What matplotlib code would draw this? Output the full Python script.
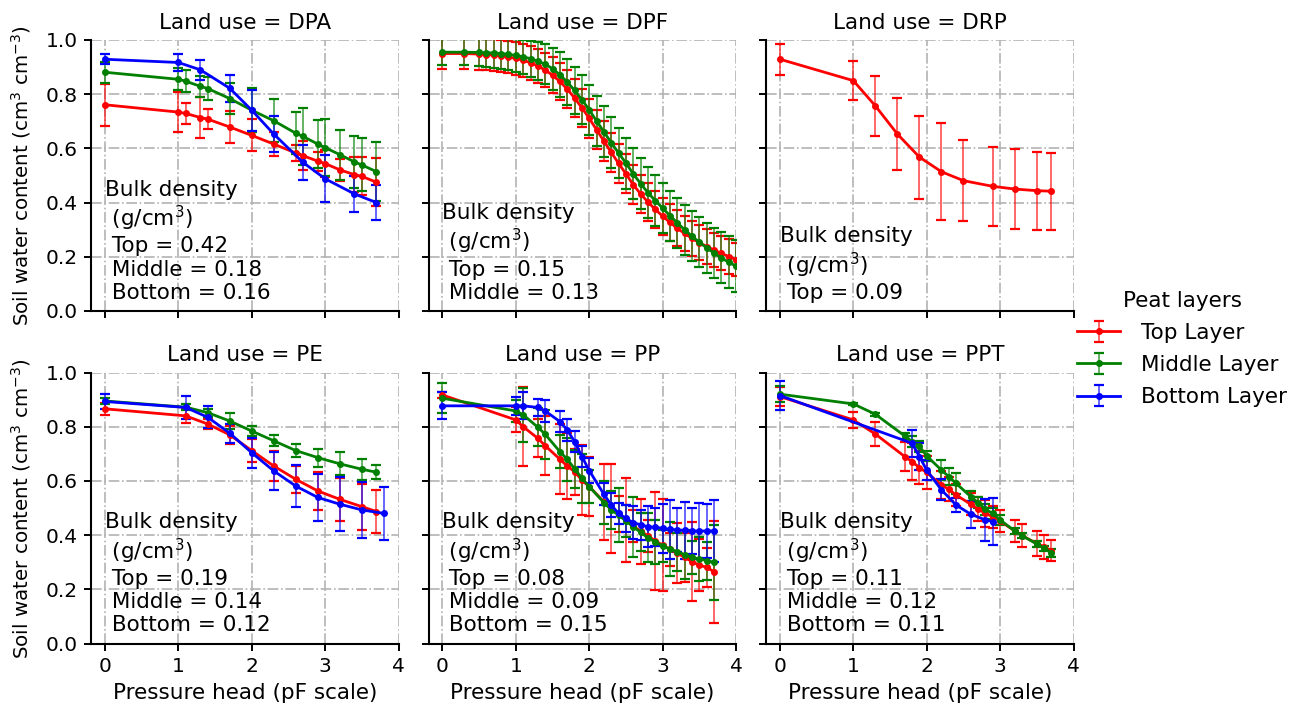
import matplotlib
matplotlib.use("Agg")
import matplotlib.pyplot as plt

plt.rcParams['font.family'] = ['DejaVu Sans']

# ---------------- data ----------------
land_uses = ["DPA", "DPF", "DRP", "PE", "PP", "PPT"]
layer_names = ["Top Layer", "Middle Layer", "Bottom Layer"]
layer_colors = ["red", "green", "blue"]

# DPA
dpa_x = [0, 1.0, 1.1, 1.3, 1.4, 1.7, 2.0, 2.3, 2.6, 2.7, 2.9, 3.0, 3.2, 3.4, 3.5, 3.7]
dpa_top = [0.761, 0.734, 0.729, 0.714, 0.708, 0.679, 0.648, 0.616, 0.583, 0.573, 0.553, 0.544, 0.521, 0.503, 0.497, 0.475]
dpa_top_err = [0.077, 0.074, 0.040, 0.075, 0.038, 0.060, 0.059, 0.045, 0.028, 0.053, 0.035, 0.050, 0.040, 0.065, 0.070, 0.088]
dpa_mid = [0.881, 0.855, 0.848, 0.829, 0.821, 0.784, 0.741, 0.702, 0.656, 0.644, 0.616, 0.603, 0.577, 0.550, 0.539, 0.514]
dpa_mid_err = [0.039, 0.040, 0.040, 0.038, 0.044, 0.058, 0.082, 0.080, 0.078, 0.105, 0.088, 0.105, 0.092, 0.095, 0.098, 0.108]
dpa_bot_x = [0, 1.0, 1.3, 1.7, 2.0, 2.3, 2.7, 3.0, 3.4, 3.7]
dpa_bot = [0.929, 0.917, 0.890, 0.822, 0.741, 0.653, 0.548, 0.488, 0.432, 0.400]
dpa_bot_err = [0.018, 0.030, 0.037, 0.049, 0.075, 0.066, 0.066, 0.087, 0.066, 0.066]

# DPF
dpf_x = [0.0, 0.3, 0.5, 0.6, 0.7, 0.8, 0.9, 1.0, 1.1, 1.2, 1.3, 1.4, 1.5, 1.6, 1.7, 1.8, 1.9,
         2.0, 2.1, 2.2, 2.3, 2.4, 2.5, 2.6, 2.7, 2.8, 2.9, 3.0, 3.1, 3.2, 3.3, 3.4, 3.5, 3.6,
         3.7, 3.8, 3.9, 4.0]
dpf_top = [0.950, 0.950, 0.948, 0.946, 0.944, 0.941, 0.937, 0.932, 0.925, 0.916, 0.904, 0.889,
           0.870, 0.847, 0.819, 0.786, 0.750, 0.711, 0.669, 0.627, 0.585, 0.545, 0.506, 0.466,
           0.432, 0.402, 0.375, 0.350, 0.327, 0.305, 0.286, 0.268, 0.252, 0.238, 0.225, 0.213,
           0.201, 0.190]
dpf_top_err = [0.058, 0.058, 0.058, 0.058, 0.058, 0.058, 0.059, 0.060, 0.061, 0.062, 0.063, 0.064,
               0.066, 0.067, 0.069, 0.070, 0.071, 0.072, 0.073, 0.073, 0.073, 0.073, 0.072, 0.072,
               0.071, 0.070, 0.069, 0.068, 0.067, 0.066, 0.066, 0.065, 0.065, 0.064, 0.064, 0.063,
               0.063, 0.062]
dpf_mid = [0.955, 0.955, 0.954, 0.953, 0.952, 0.950, 0.947, 0.943, 0.938, 0.931, 0.922, 0.911,
           0.894, 0.872, 0.845, 0.814, 0.780, 0.742, 0.701, 0.661, 0.621, 0.583, 0.546, 0.506,
           0.470, 0.437, 0.407, 0.380, 0.352, 0.325, 0.300, 0.276, 0.254, 0.233, 0.214, 0.196,
           0.180, 0.166]
dpf_mid_err = [0.047, 0.048, 0.050, 0.052, 0.054, 0.056, 0.058, 0.060, 0.063, 0.066, 0.070, 0.074,
               0.078, 0.082, 0.085, 0.088, 0.090, 0.092, 0.093, 0.094, 0.094, 0.094, 0.094, 0.094,
               0.093, 0.093, 0.093, 0.092, 0.092, 0.092, 0.092, 0.092, 0.093, 0.093, 0.094, 0.094,
               0.095, 0.095]

# DRP
drp_x = [0, 1.0, 1.3, 1.6, 1.9, 2.2, 2.5, 2.9, 3.2, 3.5, 3.7]
drp_top = [0.929, 0.850, 0.757, 0.653, 0.568, 0.514, 0.481, 0.460, 0.450, 0.444, 0.442]
drp_top_err = [0.058, 0.073, 0.110, 0.133, 0.153, 0.180, 0.149, 0.146, 0.146, 0.144, 0.142]

# PE
pe_x = [0, 1.1, 1.4, 1.7, 2.0, 2.3, 2.6, 2.9, 3.2, 3.5, 3.7]
pe_top = [0.866, 0.840, 0.810, 0.770, 0.712, 0.655, 0.606, 0.563, 0.532, 0.505, 0.487]
pe_top_err = [0.021, 0.026, 0.020, 0.033, 0.044, 0.054, 0.050, 0.070, 0.080, 0.085, 0.080]
pe_mid = [0.895, 0.872, 0.852, 0.821, 0.784, 0.748, 0.712, 0.686, 0.663, 0.643, 0.632]
pe_mid_err = [0.010, 0.010, 0.015, 0.029, 0.020, 0.020, 0.023, 0.033, 0.042, 0.038, 0.025]
pe_bot_x = [0, 1.1, 1.4, 1.7, 2.0, 2.3, 2.6, 2.9, 3.2, 3.5, 3.8]
pe_bot = [0.893, 0.871, 0.835, 0.776, 0.704, 0.637, 0.581, 0.539, 0.514, 0.493, 0.480]
pe_bot_err = [0.027, 0.043, 0.040, 0.035, 0.055, 0.070, 0.077, 0.088, 0.100, 0.103, 0.097]

# PP
pp_x = [0, 1.0, 1.1, 1.3, 1.4, 1.6, 1.7, 1.8, 1.9, 2.0, 2.2, 2.3, 2.4, 2.5, 2.6, 2.7, 2.8,
        2.9, 3.0, 3.1, 3.2, 3.3, 3.4, 3.5, 3.6, 3.7]
pp_top = [0.917, 0.825, 0.800, 0.757, 0.730, 0.680, 0.655, 0.634, 0.603, 0.579, 0.523, 0.499,
          0.477, 0.456, 0.433, 0.415, 0.397, 0.379, 0.363, 0.347, 0.333, 0.318, 0.302, 0.289,
          0.281, 0.265]
pp_top_err = [0.010, 0.046, 0.146, 0.070, 0.110, 0.130, 0.120, 0.085, 0.130, 0.110, 0.140, 0.165,
              0.066, 0.154, 0.060, 0.120, 0.060, 0.180, 0.170, 0.060, 0.110, 0.090, 0.145, 0.095,
              0.071, 0.188]
pp_mid = [0.905, 0.858, 0.844, 0.798, 0.772, 0.708, 0.680, 0.645, 0.610, 0.579, 0.520, 0.493,
          0.474, 0.452, 0.431, 0.410, 0.390, 0.375, 0.360, 0.349, 0.339, 0.328, 0.318, 0.312,
          0.306, 0.299]
pp_mid_err = [0.055, 0.040, 0.100, 0.070, 0.090, 0.060, 0.080, 0.070, 0.090, 0.060, 0.080, 0.070,
              0.100, 0.060, 0.110, 0.070, 0.090, 0.080, 0.060, 0.100, 0.070, 0.090, 0.060, 0.080,
              0.070, 0.140]
pp_bot = [0.877, 0.877, 0.877, 0.871, 0.858, 0.819, 0.788, 0.745, 0.690, 0.638, 0.551, 0.511,
          0.480, 0.462, 0.446, 0.438, 0.431, 0.429, 0.425, 0.421, 0.419, 0.417, 0.415, 0.415,
          0.415, 0.415]
pp_bot_err = [0.050, 0.034, 0.050, 0.030, 0.040, 0.040, 0.040, 0.040, 0.040, 0.045, 0.040, 0.045,
              0.040, 0.050, 0.060, 0.055, 0.075, 0.070, 0.090, 0.110, 0.080, 0.105, 0.085, 0.105,
              0.100, 0.114]

# PPT
ppt_x = [0, 1.0, 1.3, 1.7, 1.8, 1.9, 2.0, 2.2, 2.3, 2.4, 2.6, 2.7, 2.8, 2.9, 3.0, 3.2, 3.3,
         3.5, 3.6, 3.7]
ppt_top = [0.911, 0.825, 0.773, 0.690, 0.671, 0.649, 0.631, 0.585, 0.569, 0.548, 0.514, 0.496,
           0.480, 0.468, 0.452, 0.415, 0.398, 0.369, 0.357, 0.342]
ppt_top_err = [0.034, 0.031, 0.044, 0.052, 0.068, 0.060, 0.060, 0.050, 0.045, 0.040, 0.040, 0.045,
               0.050, 0.040, 0.040, 0.040, 0.043, 0.046, 0.045, 0.039]
ppt_mid = [0.920, 0.884, 0.846, 0.766, 0.745, 0.727, 0.692, 0.640, 0.616, 0.591, 0.542, 0.520,
           0.495, 0.480, 0.456, 0.415, 0.398, 0.367, 0.351, 0.335]
ppt_mid_err = [0.029, 0.005, 0.005, 0.010, 0.020, 0.020, 0.020, 0.037, 0.030, 0.038, 0.020, 0.020,
               0.020, 0.020, 0.020, 0.010, 0.010, 0.010, 0.010, 0.015]
ppt_bot_x = [0, 1.8, 1.9, 2.0, 2.2, 2.4, 2.6, 2.8, 2.9]
ppt_bot = [0.915, 0.739, 0.690, 0.640, 0.567, 0.511, 0.477, 0.456, 0.450]
ppt_bot_err = [0.052, 0.050, 0.050, 0.037, 0.039, 0.025, 0.050, 0.078, 0.086]

# bulk density annotations
bulk_texts = [
    ["Top = 0.42", "Middle = 0.18", "Bottom = 0.16"],
    ["Top = 0.15", "Middle = 0.13"],
    ["Top = 0.09"],
    ["Top = 0.19", "Middle = 0.14", "Bottom = 0.12"],
    ["Top = 0.08", "Middle = 0.09", "Bottom = 0.15"],
    ["Top = 0.11", "Middle = 0.12", "Bottom = 0.11"],
]

panel_series = [
    [(dpa_x, dpa_top, dpa_top_err), (dpa_x, dpa_mid, dpa_mid_err), (dpa_bot_x, dpa_bot, dpa_bot_err)],
    [(dpf_x, dpf_top, dpf_top_err), (dpf_x, dpf_mid, dpf_mid_err), None],
    [(drp_x, drp_top, drp_top_err), None, None],
    [(pe_x, pe_top, pe_top_err), (pe_x, pe_mid, pe_mid_err), (pe_bot_x, pe_bot, pe_bot_err)],
    [(pp_x, pp_top, pp_top_err), (pp_x, pp_mid, pp_mid_err), (pp_x, pp_bot, pp_bot_err)],
    [(ppt_x, ppt_top, ppt_top_err), (ppt_x, ppt_mid, ppt_mid_err), (ppt_bot_x, ppt_bot, ppt_bot_err)],
]

# ---------------- figure ----------------
W, H = 1294, 709
fig = plt.figure(figsize=(W / 100, H / 100), dpi=100)

col_left = [91, 428.5, 766]
ax_w = 307.5
row_top = [40, 372.5]
ax_h = 271

FS = 15.5
handles = None
for i, lu in enumerate(land_uses):
    r, c = divmod(i, 3)
    ax = fig.add_axes([col_left[c] / W, 1 - (row_top[r] + ax_h) / H, ax_w / W, ax_h / H])
    ax.set_xlim(-0.19, 4.0)
    ax.set_ylim(0, 1.0)
    ax.set_xticks([0, 1, 2, 3, 4])
    ax.set_yticks([0.0, 0.2, 0.4, 0.6, 0.8, 1.0])
    ax.grid(True, linestyle='-.', color='#b3b3b3', lw=1.2)
    ax.set_axisbelow(True)
    for s in ['top', 'right']:
        ax.spines[s].set_visible(False)
    for s in ['left', 'bottom']:
        ax.spines[s].set_linewidth(1.5)
    ax.tick_params(direction='out', length=5, width=1.4, labelsize=FS - 1, pad=4.5)
    if r == 0:
        ax.tick_params(labelbottom=False)
    else:
        ax.set_xlabel("Pressure head (pF scale)", fontsize=FS, labelpad=5)
    if c != 0:
        ax.tick_params(labelleft=False)
    else:
        ax.set_ylabel("Soil water content (cm$^3$ cm$^{-3}$)", fontsize=FS - 1.2)
        ax.yaxis.set_label_coords(-0.19, 0.5)
        ax.set_yticklabels(["0.0", "0.2", "0.4", "0.6", "0.8", "1.0"])
    ax.set_title(f"Land use = {lu}", fontsize=FS, pad=8)

    conts = []
    for k, ser in enumerate(panel_series[i]):
        if ser is None:
            continue
        x, y, e = ser
        cont = ax.errorbar(x, y, yerr=e, color=layer_colors[k], marker='o', markersize=4,
                           lw=2, elinewidth=1.4, capsize=3.5, capthick=1.6,
                           label=layer_names[k], clip_on=True)
        for b in cont[2]:
            b.set_alpha(0.6)
        conts.append(cont)
    if i == 0:
        handles = conts

    txt = "Bulk density\n (g/cm$^3$)\n " + "\n ".join(bulk_texts[i])
    ax.text(0.0, 0.03, txt, fontsize=FS, va='bottom', ha='left')

fig.legend(handles, layer_names, title="Peat layers", loc='center left',
           bbox_to_anchor=(1058 / W, 1 - 349 / H), frameon=False,
           fontsize=FS, title_fontsize=FS, handletextpad=0.95, labelspacing=0.56)

fig.savefig("out.png", dpi=100)
